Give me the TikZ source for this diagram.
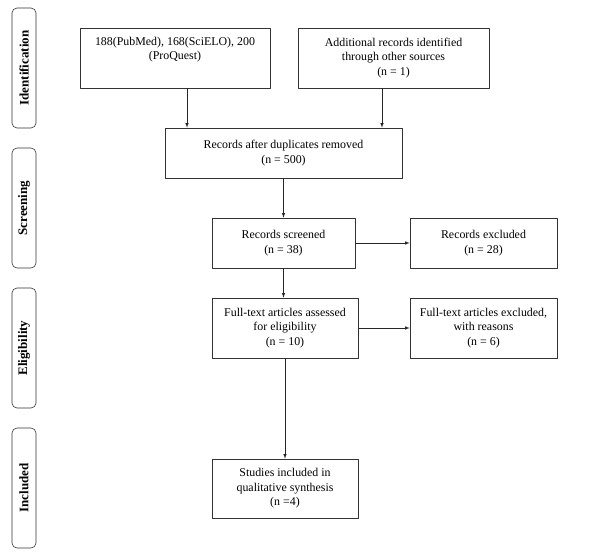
\documentclass[tikz,border=0pt]{standalone}
\usepackage{fontspec}
\setmainfont{Liberation Serif}
\usetikzlibrary{positioning}
\begin{document}
\begin{tikzpicture}[x=1pt, y=-1pt, >=latex, line join=round,
	font=\fontsize{11.9}{14.5}\selectfont,
	box/.style={draw=black!80, line width=0.6pt, align=center, inner sep=0pt},
	stage/.style={draw=black!80, line width=0.6pt, rounded corners=5pt, rotate=90,
		minimum width=120pt, minimum height=24pt, inner sep=0pt, font=\fontsize{13}{15}\selectfont\bfseries},
	flow/.style={->, draw=black!85, line width=0.6pt}]
	\useasboundingbox (0,0) rectangle (589,557);
	% stages
	\node[stage] (idf) at (24,68) {Identification};
	\node[stage] (scr) at (24,208) {Screening};
	\node[stage] (elg) at (24,348) {Eligibility};
	\node[stage] (inc) at (24,488) {Included};
	% boxes
	\node[box, minimum width=190pt, minimum height=60pt] (src1) at (175,58) {188(PubMed), 168(SciELO), 200\\(ProQuest)\\ \strut};
	\node[box, minimum width=191pt, minimum height=60pt] (src2) at (393.5,58) {Additional records identified\\through other sources\\(n = 1)};
	\node[box, minimum width=237pt, minimum height=50pt] (dup) at (283.5,153) {Records after duplicates removed\\(n = 500)};
	\node[box, minimum width=143pt, minimum height=50pt] (screened) at (283.5,243) {Records screened\\(n = 38)};
	\node[box, minimum width=147pt, minimum height=50pt] (excl) at (483.5,243) {Records excluded\\(n = 28)};
	\node[box, minimum width=146pt, minimum height=60pt] (full) at (285,328) {Full-text articles assessed\\for eligibility\\(n = 10)};
	\node[box, minimum width=147pt, minimum height=60pt] (excl2) at (483.5,328) {Full-text articles excluded,\\with reasons\\(n = 6)};
	\node[box, minimum width=146pt, minimum height=59pt] (incl) at (285,488.5) {Studies included in\\qualitative synthesis\\(n =4)};
	% arrows
	\draw[flow] ([xshift=12pt]src1.south) -- ([xshift=12pt]src1.south |- dup.north);
	\draw[flow] ([xshift=-11.5pt]src2.south) -- ([xshift=-11.5pt]src2.south |- dup.north);
	\draw[flow] (dup.south) -- (dup.south |- screened.north);
	\draw[flow] (screened.east) -- (excl.west);
	\draw[flow] (screened.south) -- (screened.south |- full.north);
	\draw[flow] (full.east) -- (excl2.west);
	\draw[flow] (full.south) -- (incl.north);
\end{tikzpicture}
\end{document}
